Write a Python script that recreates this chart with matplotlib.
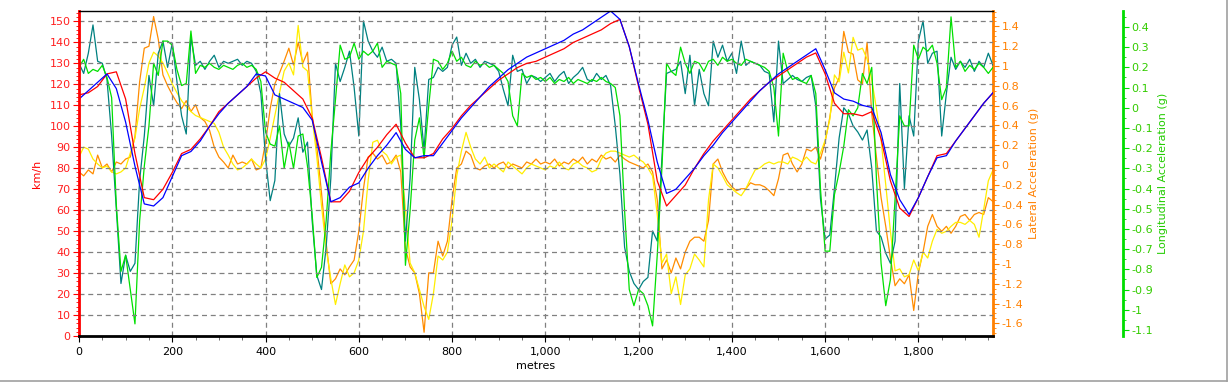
import numpy as np
import matplotlib
matplotlib.use("Agg")
import matplotlib.pyplot as plt
from matplotlib.ticker import MultipleLocator, FuncFormatter
from matplotlib.lines import Line2D

plt.rcParams['axes.unicode_minus'] = False
plt.rcParams['font.family'] = 'DejaVu Sans'

# speed traces, km/h every 20 m
dist_speed = np.arange(0, 1961, 20)
speed_red = [115, 116, 119, 125, 126, 113, 87, 66, 65, 70,
             78, 87, 89, 94, 100, 107, 111, 115, 119, 123,
             126, 123, 121, 117, 113, 104, 85, 64, 64, 69,
             78, 85, 90, 96, 101, 92, 85, 85, 87, 94,
             99, 105, 110, 114, 118, 122, 125, 128, 130, 131,
             133, 135, 137, 140, 142, 144, 146, 149, 151, 138,
             119, 101, 74, 62, 67, 72, 80, 87, 93, 98,
             103, 108, 113, 117, 121, 124, 127, 130, 133, 135,
             125, 111, 106, 106, 105, 107, 94, 74, 61, 57,
             66, 76, 86, 87, 93, 99, 105, 111, 116]
speed_blue = [113, 117, 121, 125, 118, 102, 81, 63, 62, 66,
              76, 86, 88, 93, 100, 106, 111, 115, 119, 125,
              124, 115, 113, 111, 109, 103, 83, 64, 66, 71,
              73, 80, 86, 91, 97, 89, 85, 86, 86, 92,
              98, 104, 109, 114, 119, 123, 127, 130, 133, 135,
              137, 139, 141, 144, 146, 149, 152, 155, 151, 138,
              120, 103, 83, 68, 70, 75, 80, 86, 91, 97,
              102, 107, 112, 117, 121, 125, 128, 131, 134, 137,
              127, 116, 113, 112, 110, 109, 97, 77, 65, 58,
              66, 76, 85, 86, 93, 99, 105, 111, 116]

# acceleration traces, g every 10 m
dist_acc = np.arange(0, 1961, 10)
lat_orange = [-0.07, -0.11, -0.05, -0.09, 0.10, -0.03, 0.01, -0.07, 0.03, 0.01,
              0.06, 0.08, 0.29, 0.84, 1.18, 1.20, 1.50, 1.27, 0.91, 0.80,
              0.71, 0.63, 0.57, 0.65, 0.54, 0.61, 0.48, 0.44, 0.35, 0.18,
              0.08, 0.03, -0.03, 0.10, 0.01, 0.03, 0.01, 0.06, -0.05, -0.03,
              0.23, 0.57, 0.82, 0.93, 1.05, 1.18, 1.01, 1.24, 1.03, 1.14,
              0.50, 0.18, -0.28, -0.79, -1.20, -1.15, -1.05, -1.11, -1.03, -0.96,
              -0.67, -0.24, 0.08, 0.12, 0.06, 0.10, 0.01, 0.03, 0.10, -0.07,
              -0.84, -1.03, -1.09, -1.30, -1.69, -1.09, -1.09, -0.77, -0.92, -0.77,
              -0.35, -0.03, 0.01, 0.14, 0.10, -0.03, -0.05, -0.01, 0.01, -0.03,
              0.01, 0.03, -0.03, 0.01, -0.01, -0.03, 0.03, 0.01, 0.06, 0.01,
              0.03, 0.01, 0.06, -0.01, 0.03, 0.01, 0.06, 0.03, 0.08, 0.01,
              0.06, 0.03, 0.10, 0.06, 0.08, 0.03, 0.10, 0.06, 0.03, 0.01,
              -0.01, -0.03, 0.01, -0.07, -0.35, -1.05, -0.96, -1.09, -0.94, -1.05,
              -0.88, -0.77, -0.73, -0.73, -0.77, -0.56, 0.01, 0.06, -0.07, -0.16,
              -0.22, -0.26, -0.24, -0.24, -0.18, -0.20, -0.20, -0.22, -0.26, -0.31,
              -0.14, 0.10, 0.12, 0.01, -0.07, 0.01, 0.16, 0.14, 0.18, 0.06,
              0.23, 0.48, 0.78, 0.88, 1.35, 1.14, 1.12, 0.86, 0.82, 1.24,
              0.52, 0.08, -0.33, -0.62, -0.94, -1.22, -1.15, -1.20, -1.11, -1.47,
              -1.09, -0.88, -0.62, -0.50, -0.62, -0.67, -0.62, -0.69, -0.62, -0.52,
              -0.50, -0.56, -0.50, -0.48, -0.50, -0.33, -0.37]
lat_yellow = [0.08, 0.18, 0.16, 0.06, 0.01, -0.03, -0.01, -0.07, -0.09, -0.07,
              -0.03, 0.12, 0.27, 0.57, 0.78, 1.03, 1.14, 1.10, 1.03, 0.93,
              0.82, 0.73, 0.65, 0.59, 0.54, 0.50, 0.48, 0.46, 0.44, 0.42,
              0.33, 0.18, 0.10, 0.01, -0.05, -0.03, 0.01, 0.06, 0.01, -0.03,
              0.06, 0.27, 0.50, 0.73, 0.95, 1.03, 0.91, 1.41, 0.99, 0.95,
              0.48, 0.08, -0.41, -0.84, -1.15, -1.41, -1.20, -1.01, -1.13, -1.09,
              -0.96, -0.67, -0.16, 0.23, 0.25, 0.14, 0.10, 0.01, 0.08, 0.10,
              -0.45, -0.99, -1.09, -1.26, -1.43, -1.56, -1.30, -0.92, -0.96, -0.88,
              -0.56, -0.11, 0.14, 0.33, 0.18, 0.06, 0.01, 0.08, -0.03, 0.01,
              -0.03, -0.07, 0.03, -0.01, -0.05, -0.09, -0.03, 0.01, -0.01, -0.03,
              -0.05, -0.01, -0.03, 0.03, -0.03, -0.05, 0.01, 0.03, -0.01, -0.03,
              -0.07, -0.05, 0.06, 0.12, 0.14, 0.14, 0.12, 0.10, 0.08, 0.10,
              0.06, 0.03, -0.03, -0.11, -0.50, -0.99, -0.90, -1.30, -1.13, -1.41,
              -1.11, -1.05, -0.90, -0.96, -1.03, -0.35, 0.01, -0.03, -0.11, -0.20,
              -0.24, -0.28, -0.31, -0.24, -0.14, -0.05, -0.03, 0.01, 0.03, 0.01,
              0.03, 0.03, 0.01, 0.08, 0.06, 0.03, 0.08, 0.03, 0.01, 0.12,
              0.25, 0.46, 0.91, 0.84, 1.14, 0.93, 1.29, 1.16, 1.18, 1.07,
              0.86, 0.57, 0.25, -0.20, -0.67, -1.07, -1.05, -1.13, -1.11, -0.96,
              -1.07, -0.88, -0.94, -0.77, -0.65, -0.69, -0.67, -0.62, -0.58, -0.58,
              -0.60, -0.56, -0.60, -0.73, -0.45, -0.16, -0.05]
long_teal = [0.22, 0.17, 0.27, 0.41, 0.23, 0.22, 0.14, -0.14, -0.50, -0.87,
             -0.73, -0.81, -0.77, -0.36, -0.14, 0.16, 0.01, 0.27, 0.33, 0.20,
             0.32, 0.13, -0.04, -0.13, 0.35, 0.21, 0.23, 0.19, 0.23, 0.26,
             0.20, 0.23, 0.22, 0.23, 0.24, 0.21, 0.23, 0.22, 0.18, 0.07,
             -0.25, -0.46, -0.36, 0.07, -0.13, -0.19, -0.15, -0.05, -0.22, -0.17,
             -0.56, -0.83, -0.90, -0.69, -0.35, 0.22, 0.13, 0.20, 0.28, 0.10,
             -0.14, 0.43, 0.33, 0.28, 0.25, 0.30, 0.23, 0.24, 0.22, -0.09,
             -0.66, -0.35, 0.20, 0.04, -0.21, 0.14, 0.15, 0.20, 0.18, 0.20,
             0.31, 0.35, 0.21, 0.27, 0.22, 0.24, 0.20, 0.23, 0.22, 0.21,
             0.18, 0.09, 0.01, 0.26, 0.18, 0.19, 0.12, 0.16, 0.15, 0.13,
             0.15, 0.17, 0.13, 0.16, 0.18, 0.12, 0.15, 0.17, 0.20, 0.14,
             0.13, 0.17, 0.14, 0.16, 0.11, -0.09, -0.33, -0.69, -0.81, -0.87,
             -0.90, -0.86, -0.84, -0.61, -0.66, -0.25, 0.17, 0.18, 0.19, 0.23,
             0.07, 0.26, 0.01, 0.19, 0.07, 0.01, 0.33, 0.25, 0.31, 0.23,
             0.27, 0.17, 0.33, 0.21, 0.23, 0.22, 0.21, 0.18, 0.17, -0.07,
             0.33, 0.12, 0.14, 0.16, 0.14, 0.13, 0.15, 0.16, 0.01, -0.45,
             -0.65, -0.63, -0.40, -0.15, 0.00, -0.03, -0.09, -0.12, -0.16, -0.11,
             -0.30, -0.61, -0.64, -0.72, -0.77, -0.66, 0.12, -0.40, -0.04, -0.14,
             0.33, 0.43, 0.22, 0.27, 0.28, -0.14, 0.07, 0.25, 0.19, 0.23,
             0.20, 0.24, 0.18, 0.23, 0.20, 0.27, 0.21]
long_green = [0.20, 0.24, 0.17, 0.19, 0.18, 0.21, 0.15, 0.05, -0.48, -0.81,
              -0.73, -0.90, -1.07, -0.56, -0.29, -0.09, 0.22, 0.16, 0.33, 0.33,
              0.31, 0.19, 0.11, 0.12, 0.38, 0.17, 0.21, 0.20, 0.22, 0.20,
              0.19, 0.21, 0.20, 0.19, 0.21, 0.22, 0.20, 0.21, 0.19, 0.13,
              -0.12, -0.18, -0.19, -0.09, -0.30, -0.17, -0.30, -0.14, -0.13, -0.29,
              -0.53, -0.84, -0.79, -0.56, -0.22, 0.04, 0.31, 0.24, 0.25, 0.32,
              0.24, 0.28, 0.26, 0.28, 0.32, 0.20, 0.23, 0.22, 0.21, 0.07,
              -0.78, -0.51, -0.16, -0.05, -0.25, 0.01, 0.24, 0.23, 0.19, 0.22,
              0.28, 0.23, 0.25, 0.21, 0.20, 0.23, 0.21, 0.22, 0.20, 0.21,
              0.19, 0.17, 0.13, -0.04, -0.09, 0.17, 0.15, 0.16, 0.14, 0.15,
              0.13, 0.15, 0.12, 0.14, 0.13, 0.15, 0.12, 0.14, 0.13, 0.12,
              0.14, 0.13, 0.15, 0.13, 0.12, 0.10, -0.04, -0.51, -0.90, -0.98,
              -0.90, -0.92, -0.98, -1.08, -0.73, -0.30, 0.22, 0.18, 0.16, 0.30,
              0.22, 0.17, 0.23, 0.22, 0.18, 0.23, 0.24, 0.21, 0.25, 0.23,
              0.24, 0.22, 0.21, 0.24, 0.23, 0.22, 0.21, 0.20, 0.18, 0.10,
              -0.14, 0.27, 0.18, 0.14, 0.15, 0.13, 0.12, 0.16, 0.07, -0.40,
              -0.71, -0.71, -0.43, -0.32, -0.19, -0.01, -0.04, 0.00, 0.17, 0.12,
              0.20, -0.35, -0.77, -0.98, -0.85, -0.45, -0.04, -0.09, -0.09, 0.31,
              0.24, 0.30, 0.28, 0.31, 0.22, 0.04, 0.10, 0.45, 0.20, 0.23,
              0.18, 0.21, 0.19, 0.22, 0.20, 0.17, 0.20]

RED = '#ff0000'
ORANGE = '#ff8000'
GREEN = '#00dd00'
LBL = 8

fig = plt.figure(figsize=(12.28, 3.82), dpi=100, facecolor='white')
ax = fig.add_axes([79 / 1228, 46 / 382, 914 / 1228, 325 / 382])
ax2 = ax.twinx()
ax3 = ax.twinx()

# lateral
ax2.plot(dist_acc, lat_orange, color='#ff8c00', lw=0.9)
ax2.plot(dist_acc, lat_yellow, color='#ffee00', lw=0.9)
ax2.set_ylim(-1.728, 1.556)
# longitudinal
ax3.plot(dist_acc, long_teal, color='#008080', lw=0.9)
ax3.plot(dist_acc, long_green, color='#00e000', lw=0.9)
ax3.set_ylim(-1.13, 0.479)
# speed on top
ax.plot(dist_speed, speed_red, color=RED, lw=0.9)
ax.plot(dist_speed, speed_blue, color='#0000ff', lw=0.9)
ax.set_xlim(0, 1960)
ax.set_ylim(0, 155)

ax.set_zorder(3)
ax.patch.set_visible(False)
ax2.patch.set_visible(False)
ax3.patch.set_visible(False)

ax.grid(True, color='#808080', linestyle=(0, (4, 3)), lw=0.9)
ax.xaxis.set_major_locator(MultipleLocator(200))
ax.xaxis.set_minor_locator(MultipleLocator(50))
ax.xaxis.set_major_formatter(FuncFormatter(lambda x, p: f'{int(x):,}'))
ax.yaxis.set_major_locator(MultipleLocator(10))
ax.yaxis.set_minor_locator(MultipleLocator(2))

def gfmt(x, p):
    x = round(x, 2)
    if abs(x) < 1e-9:
        return '0'
    return f'{x:g}'

ax2.yaxis.set_major_locator(MultipleLocator(0.2))
ax2.yaxis.set_minor_locator(MultipleLocator(0.05))
ax2.yaxis.set_major_formatter(FuncFormatter(gfmt))
ax3.yaxis.set_major_locator(MultipleLocator(0.1))
ax3.yaxis.set_minor_locator(MultipleLocator(0.05))
ax3.yaxis.set_major_formatter(FuncFormatter(gfmt))

for a in (ax, ax2, ax3):
    for s in a.spines.values():
        s.set_visible(False)

ax.spines['left'].set_visible(True)
ax.spines['left'].set_color(RED)
ax.spines['left'].set_linewidth(2)
ax.spines['top'].set_visible(True)
ax.spines['top'].set_color('black')
ax.spines['top'].set_linewidth(1)
ax.spines['bottom'].set_visible(True)
ax.spines['bottom'].set_color('black')
ax.spines['bottom'].set_linewidth(2)
ax2.spines['right'].set_visible(True)
ax2.spines['right'].set_color(ORANGE)
ax2.spines['right'].set_linewidth(2)
ax3.spines['right'].set_visible(True)
ax3.spines['right'].set_position(('axes', 1.142))
ax3.spines['right'].set_color(GREEN)
ax3.spines['right'].set_linewidth(2)

ax.tick_params(axis='x', which='major', length=4, color='black', labelsize=LBL, pad=4)
ax.tick_params(axis='x', which='minor', length=3, color='#555555')
ax.tick_params(axis='y', which='major', length=4, color=RED, labelcolor='#ff2020', labelsize=LBL, pad=2)
ax.tick_params(axis='y', which='minor', length=2, color=RED)
ax2.tick_params(axis='y', which='major', length=4, color=ORANGE, labelcolor=ORANGE, labelsize=LBL, pad=2)
ax2.tick_params(axis='y', which='minor', length=2, color=ORANGE)
ax3.tick_params(axis='y', which='major', length=4, color=GREEN, labelcolor='#33cc00', labelsize=LBL, pad=2)
ax3.tick_params(axis='y', which='minor', length=2, color=GREEN)

ax.set_xlabel('metres', fontsize=LBL, labelpad=3)
ax.set_ylabel('km/h', color=RED, fontsize=LBL, labelpad=12)
ax.yaxis.set_label_coords(-37 / 914, 0.5)
ax2.set_ylabel('Lateral Acceleration (g)', color=ORANGE, fontsize=LBL, labelpad=4)
ax3.set_ylabel('Longitudinal Acceleration (g)', color='#22cc00', fontsize=LBL, labelpad=4)

# window edge
fig.add_artist(Line2D([1226.5 / 1228] * 2, [1.5 / 382, 1], color='#a0a0a0', lw=1.2))
fig.add_artist(Line2D([0, 1226.5 / 1228], [1.5 / 382] * 2, color='#a0a0a0', lw=1.2))

fig.savefig('out.png', dpi=100, facecolor='white')
